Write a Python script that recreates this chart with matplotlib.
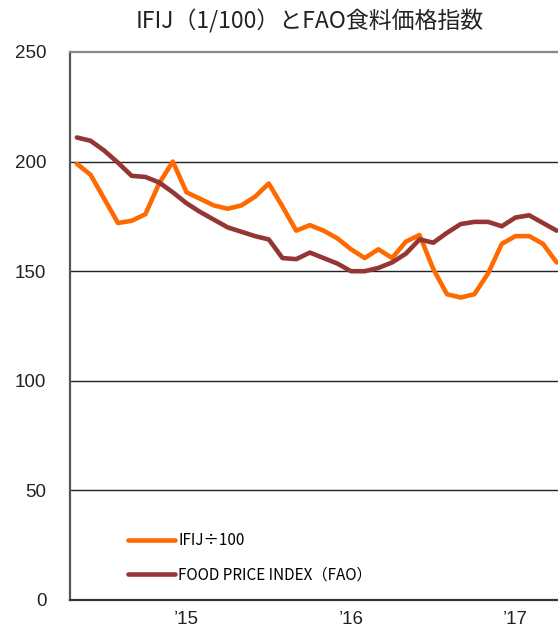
import numpy as np
import matplotlib
matplotlib.use('Agg')
import matplotlib.pyplot as plt

plt.rcParams['font.family'] = ['Noto Sans CJK JP', 'DejaVu Sans']

# ---------------------------------------------------------------
# données (mensuelles, mai 2014 -> avril 2017)
# ---------------------------------------------------------------

# IFIJ / 100
ifij = [199, 194, 183, 172, 173, 176, 190, 200, 186, 183, 180, 178.5,
        180, 184, 190, 179.5, 168.5, 171, 168.5, 165, 160, 156, 160, 156,
        163.5, 166.5, 151, 139.5, 138, 139.5, 149, 162.5, 166, 166, 162.5, 154]

# FAO food price index
fao = [211, 209.5, 205, 199.5, 193.5, 193, 190.5, 186, 181, 177, 173.5, 170,
       168, 166, 164.5, 156, 155.5, 158.5, 156, 153.5, 150, 150, 151.5, 154,
       158, 164.5, 163, 167.5, 171.5, 172.5, 172.5, 170.5, 174.5, 175.5, 172, 168.5]

labels = ['IFIJ÷100', 'FOOD PRICE INDEX（FAO）']
year_pos = [8, 20, 32]
year_labels = ['’15', '’16', '’17']
y_ticks = [0, 50, 100, 150, 200, 250]

# ---------------------------------------------------------------
# figure
# ---------------------------------------------------------------

fig = plt.figure(figsize=(5.58, 6.33), dpi=100)
ax = fig.add_axes([70 / 558, 33 / 633, 488 / 558, 548 / 633])

x = np.arange(len(ifij))

for yv in [50, 100, 150, 200]:
    ax.axhline(yv, color='#222222', lw=1.0, zorder=1)

l1, = ax.plot(x, ifij, color='#FF6A00', lw=3.3, solid_capstyle='round',
              solid_joinstyle='round', zorder=3)
l2, = ax.plot(x, fao, color='#943634', lw=3.3, solid_capstyle='round',
              solid_joinstyle='round', zorder=3)

ax.set_xlim(-0.5, 35.1)
ax.set_ylim(0, 250)

ax.set_yticks(y_ticks)
ax.set_yticklabels([str(v) for v in y_ticks], fontsize=13.5, color='#222222',
                   family=['Liberation Sans', 'DejaVu Sans'])
ax.set_xticks(year_pos)
ax.set_xticklabels(year_labels, fontsize=13.5, color='#222222',
                   family=['Liberation Sans', 'DejaVu Sans'])
ax.tick_params(axis='y', length=0, pad=17)
ax.tick_params(axis='x', length=0, pad=8)

ax.spines['right'].set_visible(False)
ax.spines['top'].set_color('#888888')
ax.spines['top'].set_linewidth(1.6)
ax.spines['left'].set_color('#555555')
ax.spines['left'].set_linewidth(1.6)
ax.spines['bottom'].set_color('#333333')
ax.spines['bottom'].set_linewidth(1.6)

leg = ax.legend([l1, l2], labels, loc='lower left', bbox_to_anchor=(0.09, 0.005),
                frameon=False, fontsize=11, handlelength=3.1, handletextpad=0.2,
                labelspacing=1.15)

fig.text(310 / 558, 1 - 21 / 633, 'IFIJ（1/100）とFAO食料価格指数', ha='center',
         va='center', fontsize=16.5, color='#222222')

fig.savefig('out.png', dpi=100)
